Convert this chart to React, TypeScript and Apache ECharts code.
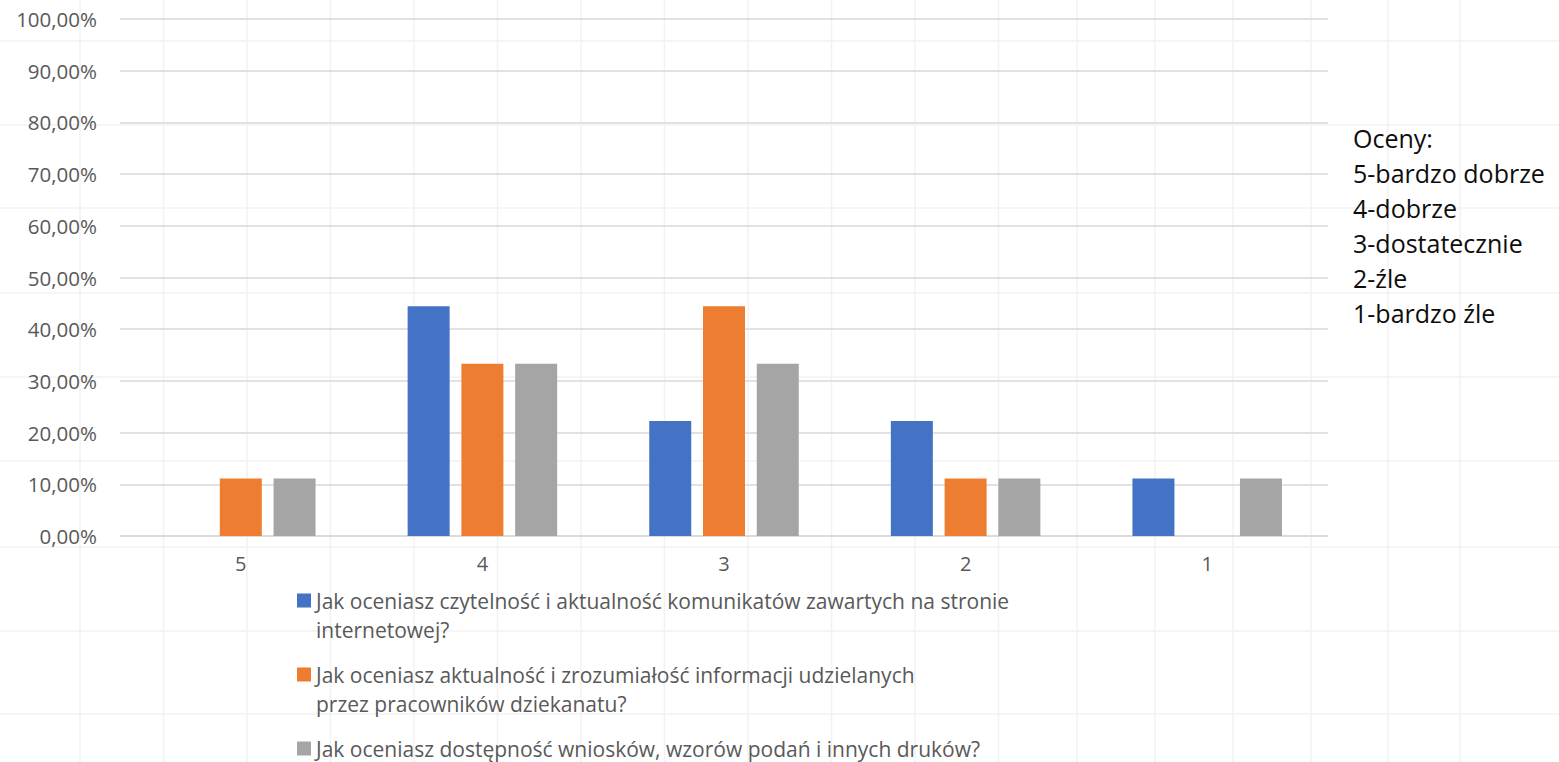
import React, { useEffect, useRef } from "react";
import * as echarts from "echarts";

const categories = ["5", "4", "3", "2", "1"];
const seriesNames = [
  "Jak oceniasz czytelność i aktualność komunikatów zawartych na stronie internetowej?",
  "Jak oceniasz aktualność i zrozumiałość informacji udzielanych przez pracowników dziekanatu?",
  "Jak oceniasz dostępność wniosków, wzorów podań i innych druków?",
];
const legendLines = [
  ["Jak oceniasz czytelność i aktualność komunikatów zawartych na stronie", "internetowej?"],
  ["Jak oceniasz aktualność i zrozumiałość informacji udzielanych", "przez pracowników dziekanatu?"],
  ["Jak oceniasz dostępność wniosków, wzorów podań i innych druków?"],
];
const blueValues = [0, 0.4444, 0.2222, 0.2222, 0.1111];
const orangeValues = [0.1111, 0.3333, 0.4444, 0.1111, 0];
const grayValues = [0.1111, 0.3333, 0.3333, 0.1111, 0.1111];
const ratingNote = ["Oceny:", "5-bardzo dobrze", "4-dobrze", "3-dostatecznie", "2-źle", "1-bardzo źle"];

const colors = ["#4472C4", "#ED7D31", "#A5A5A5"];
const FONT = "'Open Sans', sans-serif";
const LEGEND_FS = 21;
const LEGEND_LH = 29;

function buildBackground() {
  const els: any[] = [];
  const cols: number[] = [];
  for (let k = 0; k < 12; k++) cols.push(80 + 83.5 * k);
  cols.push(1077, 1155, 1233, 1311, 1388, 1460);
  const rows = [41, 125, 208, 293, 377, 461, 547, 631, 714];
  cols.forEach((x) =>
    els.push({ type: "line", z: -10, silent: true, shape: { x1: x, y1: 0, x2: x, y2: 762 }, style: { stroke: "#f2f2f2", lineWidth: 1.5 } })
  );
  rows.forEach((y) =>
    els.push({ type: "line", z: -10, silent: true, shape: { x1: 0, y1: y, x2: 1559, y2: y }, style: { stroke: "#f2f2f2", lineWidth: 1.5 } })
  );
  return els;
}

function legendText(i: number) {
  const lines = legendLines[i];
  if (lines.length === 1) return "{t|" + lines[0] + "}";
  // empty first line keeps the icon aligned with the first text line
  return "{e| }\n" + lines.map((l) => "{t|" + l + "}").join("\n");
}

export default function App() {
  const ref = useRef<HTMLDivElement>(null);
  useEffect(() => {
    if (!ref.current) return;
    const chart = echarts.init(ref.current, null, { renderer: "svg" });
    const legendTops = [557, 631, 734];
    const values = [blueValues, orangeValues, grayValues];
    const option: any = {
      animation: false,
      backgroundColor: "#ffffff",
      textStyle: { fontFamily: FONT },
      grid: { left: 120, right: 231, top: 19, bottom: 226, containLabel: false },
      xAxis: {
        type: "category",
        data: categories,
        axisTick: { show: false },
        axisLine: { lineStyle: { color: "#d9d9d9", width: 1.5 } },
        axisLabel: { color: "#595959", fontSize: 20, fontFamily: FONT, margin: 17 },
      },
      yAxis: {
        type: "value",
        min: 0,
        max: 1,
        interval: 0.1,
        axisLine: { show: false },
        axisTick: { show: false },
        splitLine: { lineStyle: { color: "#d9d9d9", width: 1.5 } },
        axisLabel: {
          color: "#595959",
          fontSize: 20.5,
          fontFamily: FONT,
          margin: 23,
          formatter: (v: number) => (v * 100).toFixed(2).replace(".", ",") + "%",
        },
      },
      legend: seriesNames.map((name, i) => ({
        data: [name],
        left: 297,
        top: legendTops[i],
        orient: "vertical",
        padding: 0,
        itemWidth: 14,
        itemHeight: 14,
        icon: "rect",
        selectedMode: false,
        formatter: () => legendText(i),
        textStyle: {
          color: "#595959",
          fontSize: LEGEND_FS,
          fontFamily: FONT,
          lineHeight: LEGEND_LH,
          rich: {
            e: { fontSize: LEGEND_FS, lineHeight: LEGEND_LH, fontFamily: FONT },
            t: { fontSize: LEGEND_FS, lineHeight: LEGEND_LH, fontFamily: FONT, color: "#595959" },
          },
        },
      })),
      graphic: {
        elements: [
          ...buildBackground(),
          {
            type: "text",
            left: 1353,
            top: 120,
            z: 10,
            style: {
              text: ratingNote.join("\n"),
              fill: "#0d0d0d",
              fontSize: 25,
              fontFamily: FONT,
              lineHeight: 35,
            },
          },
        ],
      },
      series: seriesNames.map((name, i) => ({
        name,
        type: "bar",
        data: values[i],
        barWidth: 42,
        barGap: "28%",
        itemStyle: { color: colors[i] },
      })),
    };
    chart.setOption(option);
    return () => chart.dispose();
  }, []);
  return (
    <div
      ref={ref}
      style={{ position: "absolute", left: 0, top: 0, width: 1559, height: 762, background: "#fff" }}
    />
  );
}
